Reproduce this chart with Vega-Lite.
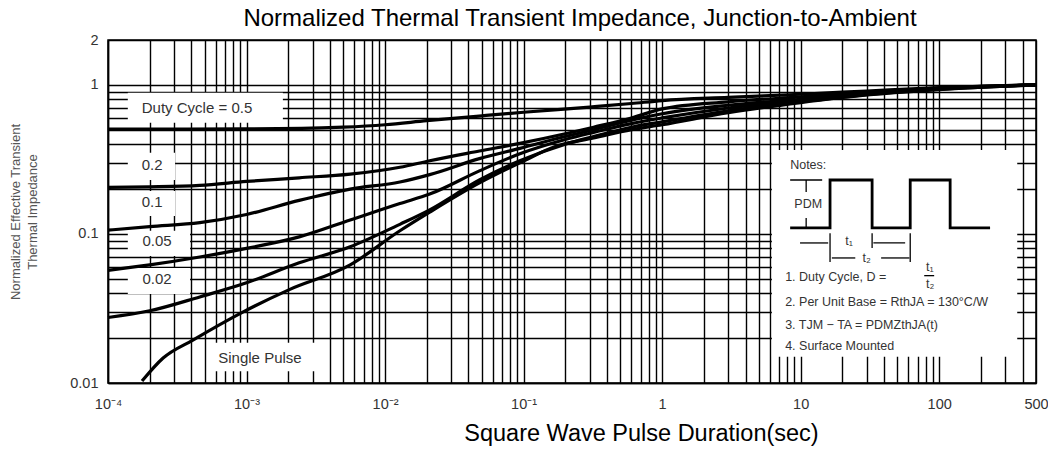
{
  "$schema": "https://vega.github.io/schema/vega-lite/v6.json",
  "width": 928,
  "height": 343,
  "autosize": {"type": "none"},
  "padding": {"left": 108, "top": 40, "right": 12, "bottom": 68},
  "background": "white",
  "title": {"text": "Normalized Thermal Transient Impedance, Junction-to-Ambient", "fontSize": 24, "fontWeight": "normal", "color": "black", "offset": 1, "dx": 8},
  "config": {
    "font": "Liberation Sans",
    "view": {"stroke": "black", "strokeWidth": 1.5},
    "axis": {"grid": true, "gridColor": "black", "gridOpacity": 1, "gridWidth": 1.4, "ticks": false, "domainColor": "black", "domainWidth": 1.5, "labelFontSize": 14.5, "labelColor": "#333", "labelOverlap": false, "labelFlush": false}
  },
  "datasets": {
    "curves": [
      {"s": "0.5", "x": 0.0001, "y": 0.505}, {"s": "0.5", "x": 0.001, "y": 0.507}, {"s": "0.5", "x": 0.0025, "y": 0.51}, {"s": "0.5", "x": 0.005, "y": 0.52}, {"s": "0.5", "x": 0.01, "y": 0.54}, {"s": "0.5", "x": 0.02, "y": 0.575}, {"s": "0.5", "x": 0.05, "y": 0.62}, {"s": "0.5", "x": 0.1, "y": 0.655}, {"s": "0.5", "x": 0.3, "y": 0.71}, {"s": "0.5", "x": 0.6, "y": 0.75}, {"s": "0.5", "x": 1, "y": 0.785}, {"s": "0.5", "x": 3, "y": 0.825}, {"s": "0.5", "x": 10, "y": 0.865}, {"s": "0.5", "x": 30, "y": 0.91}, {"s": "0.5", "x": 100, "y": 0.96}, {"s": "0.5", "x": 500, "y": 1.0},
      {"s": "0.2", "x": 0.0001, "y": 0.205}, {"s": "0.2", "x": 0.0002, "y": 0.207}, {"s": "0.2", "x": 0.00046, "y": 0.212}, {"s": "0.2", "x": 0.001, "y": 0.225}, {"s": "0.2", "x": 0.0024, "y": 0.238}, {"s": "0.2", "x": 0.0056, "y": 0.252}, {"s": "0.2", "x": 0.0128, "y": 0.28}, {"s": "0.2", "x": 0.021, "y": 0.31}, {"s": "0.2", "x": 0.048, "y": 0.36}, {"s": "0.2", "x": 0.094, "y": 0.405}, {"s": "0.2", "x": 0.2, "y": 0.47}, {"s": "0.2", "x": 0.32, "y": 0.52}, {"s": "0.2", "x": 0.6, "y": 0.6}, {"s": "0.2", "x": 1, "y": 0.69}, {"s": "0.2", "x": 3, "y": 0.77}, {"s": "0.2", "x": 10, "y": 0.83}, {"s": "0.2", "x": 30, "y": 0.89}, {"s": "0.2", "x": 100, "y": 0.95}, {"s": "0.2", "x": 500, "y": 1.0},
      {"s": "0.1", "x": 0.0001, "y": 0.106}, {"s": "0.1", "x": 0.0002, "y": 0.112}, {"s": "0.1", "x": 0.00046, "y": 0.119}, {"s": "0.1", "x": 0.001, "y": 0.135}, {"s": "0.1", "x": 0.0024, "y": 0.168}, {"s": "0.1", "x": 0.0056, "y": 0.2}, {"s": "0.1", "x": 0.0128, "y": 0.223}, {"s": "0.1", "x": 0.021, "y": 0.25}, {"s": "0.1", "x": 0.048, "y": 0.32}, {"s": "0.1", "x": 0.094, "y": 0.375}, {"s": "0.1", "x": 0.2, "y": 0.45}, {"s": "0.1", "x": 0.32, "y": 0.5}, {"s": "0.1", "x": 0.6, "y": 0.58}, {"s": "0.1", "x": 1, "y": 0.64}, {"s": "0.1", "x": 3, "y": 0.73}, {"s": "0.1", "x": 10, "y": 0.8}, {"s": "0.1", "x": 30, "y": 0.88}, {"s": "0.1", "x": 100, "y": 0.945}, {"s": "0.1", "x": 500, "y": 1.0},
      {"s": "0.05", "x": 0.0001, "y": 0.057}, {"s": "0.05", "x": 0.0002, "y": 0.062}, {"s": "0.05", "x": 0.00046, "y": 0.07}, {"s": "0.05", "x": 0.001, "y": 0.08}, {"s": "0.05", "x": 0.0024, "y": 0.0955}, {"s": "0.05", "x": 0.0056, "y": 0.124}, {"s": "0.05", "x": 0.0128, "y": 0.16}, {"s": "0.05", "x": 0.021, "y": 0.185}, {"s": "0.05", "x": 0.048, "y": 0.265}, {"s": "0.05", "x": 0.094, "y": 0.345}, {"s": "0.05", "x": 0.2, "y": 0.43}, {"s": "0.05", "x": 0.32, "y": 0.48}, {"s": "0.05", "x": 0.6, "y": 0.55}, {"s": "0.05", "x": 1, "y": 0.6}, {"s": "0.05", "x": 3, "y": 0.7}, {"s": "0.05", "x": 10, "y": 0.79}, {"s": "0.05", "x": 30, "y": 0.87}, {"s": "0.05", "x": 100, "y": 0.94}, {"s": "0.05", "x": 500, "y": 1.0},
      {"s": "0.02", "x": 0.0001, "y": 0.0275}, {"s": "0.02", "x": 0.0002, "y": 0.0305}, {"s": "0.02", "x": 0.00046, "y": 0.0378}, {"s": "0.02", "x": 0.001, "y": 0.047}, {"s": "0.02", "x": 0.0024, "y": 0.064}, {"s": "0.02", "x": 0.0056, "y": 0.082}, {"s": "0.02", "x": 0.0128, "y": 0.116}, {"s": "0.02", "x": 0.021, "y": 0.145}, {"s": "0.02", "x": 0.048, "y": 0.23}, {"s": "0.02", "x": 0.094, "y": 0.31}, {"s": "0.02", "x": 0.2, "y": 0.4}, {"s": "0.02", "x": 0.32, "y": 0.45}, {"s": "0.02", "x": 0.6, "y": 0.52}, {"s": "0.02", "x": 1, "y": 0.565}, {"s": "0.02", "x": 3, "y": 0.67}, {"s": "0.02", "x": 10, "y": 0.77}, {"s": "0.02", "x": 30, "y": 0.86}, {"s": "0.02", "x": 100, "y": 0.935}, {"s": "0.02", "x": 500, "y": 1.0},
      {"s": "single", "x": 0.000176, "y": 0.0103}, {"s": "single", "x": 0.00025, "y": 0.0147}, {"s": "single", "x": 0.00041, "y": 0.0194}, {"s": "single", "x": 0.00094, "y": 0.0299}, {"s": "single", "x": 0.002, "y": 0.042}, {"s": "single", "x": 0.0056, "y": 0.062}, {"s": "single", "x": 0.0128, "y": 0.105}, {"s": "single", "x": 0.021, "y": 0.14}, {"s": "single", "x": 0.048, "y": 0.22}, {"s": "single", "x": 0.094, "y": 0.3}, {"s": "single", "x": 0.175, "y": 0.39}, {"s": "single", "x": 0.32, "y": 0.44}, {"s": "single", "x": 0.6, "y": 0.5}, {"s": "single", "x": 1, "y": 0.54}, {"s": "single", "x": 3, "y": 0.65}, {"s": "single", "x": 10, "y": 0.76}, {"s": "single", "x": 30, "y": 0.855}, {"s": "single", "x": 100, "y": 0.93}, {"s": "single", "x": 500, "y": 1.0}
    ],
    "boxes": [
      {"x": 0.000139, "x2": 0.00183, "y": 0.884, "y2": 0.556},
      {"x": 0.000139, "x2": 0.000305, "y": 0.35, "y2": 0.23},
      {"x": 0.000139, "x2": 0.000305, "y": 0.194, "y2": 0.132},
      {"x": 0.000139, "x2": 0.000391, "y": 0.105, "y2": 0.0712},
      {"x": 0.000139, "x2": 0.000391, "y": 0.0591, "y2": 0.0396},
      {"x": 0.000564, "x2": 0.00318, "y": 0.0186, "y2": 0.012},
      {"x": 6.2, "x2": 366, "y": 0.365, "y2": 0.015}
    ],
    "curvelabels": [
      {"x": 0.000439, "y": 0.70, "text": "Duty Cycle = 0.5"},
      {"x": 0.000208, "y": 0.29, "text": "0.2"},
      {"x": 0.000208, "y": 0.164, "text": "0.1"},
      {"x": 0.000226, "y": 0.0898, "text": "0.05"},
      {"x": 0.000226, "y": 0.0499, "text": "0.02"},
      {"x": 0.00125, "y": 0.0147, "text": "Single Pulse"}
    ],
    "wave": [
      {"i": 1, "x": 8.4, "y": 0.1097}, {"i": 2, "x": 16.3, "y": 0.1097}, {"i": 3, "x": 16.3, "y": 0.23}, {"i": 4, "x": 32.8, "y": 0.23}, {"i": 5, "x": 32.8, "y": 0.1097}, {"i": 6, "x": 61.8, "y": 0.1097}, {"i": 7, "x": 61.8, "y": 0.23}, {"i": 8, "x": 120, "y": 0.23}, {"i": 9, "x": 120, "y": 0.1097}, {"i": 10, "x": 233, "y": 0.1097}
    ],
    "segs": [
      {"x": 8.4, "x2": 14.3, "y": 0.23, "y2": 0.23},
      {"x": 10.96, "x2": 10.96, "y": 0.23, "y2": 0.191},
      {"x": 10.96, "x2": 10.96, "y": 0.128, "y2": 0.1097},
      {"x": 9.9, "x2": 15.8, "y": 0.087, "y2": 0.087},
      {"x": 16.3, "x2": 16.3, "y": 0.101, "y2": 0.0649},
      {"x": 32.8, "x2": 32.8, "y": 0.101, "y2": 0.0805},
      {"x": 33.5, "x2": 56.8, "y": 0.087, "y2": 0.087},
      {"x": 61.8, "x2": 61.8, "y": 0.101, "y2": 0.0649},
      {"x": 16.8, "x2": 24.8, "y": 0.069, "y2": 0.069},
      {"x": 38.1, "x2": 61.0, "y": 0.069, "y2": 0.069},
      {"x": 78, "x2": 92, "y": 0.0525, "y2": 0.0525}
    ],
    "notes": [
      {"x": 8.4, "y": 0.29, "text": "Notes:"},
      {"x": 9.0, "y": 0.159, "text": "PDM"},
      {"x": 21.0, "y": 0.0898, "text": "t₁"},
      {"x": 28.0, "y": 0.069, "text": "t₂"},
      {"x": 7.73, "y": 0.0515, "text": "1. Duty Cycle, D ="},
      {"x": 80.5, "y": 0.06, "text": "t₁"},
      {"x": 80.5, "y": 0.046, "text": "t₂"},
      {"x": 7.73, "y": 0.035, "text": "2. Per Unit Base = RthJA = 130°C/W"},
      {"x": 7.73, "y": 0.0245, "text": "3. TJM − TA = PDMZthJA(t)"},
      {"x": 7.73, "y": 0.0177, "text": "4. Surface Mounted"}
    ]
  },
  "encoding": {
    "x": {
      "field": "x", "type": "quantitative",
      "scale": {"type": "log", "domain": [0.0001, 500], "nice": false},
      "axis": {
        "values": [0.0001, 0.0002, 0.0003, 0.0004, 0.0005, 0.0006, 0.0007, 0.0008, 0.0009, 0.001, 0.002, 0.003, 0.004, 0.005, 0.006, 0.007, 0.008, 0.009, 0.01, 0.02, 0.03, 0.04, 0.05, 0.06, 0.07, 0.08, 0.09, 0.1, 0.2, 0.3, 0.4, 0.5, 0.6, 0.7, 0.8, 0.9, 1, 2, 3, 4, 5, 6, 7, 8, 9, 10, 20, 30, 40, 50, 60, 70, 80, 90, 100, 200, 300, 400, 500],
        "labelExpr": "abs(datum.value - 500) < 1e-6 ? '500' : abs(log(datum.value)/LN10 - round(log(datum.value)/LN10)) > 1e-6 ? '' : round(log(datum.value)/LN10) == -4 ? '10⁻⁴' : round(log(datum.value)/LN10) == -3 ? '10⁻³' : round(log(datum.value)/LN10) == -2 ? '10⁻²' : round(log(datum.value)/LN10) == -1 ? '10⁻¹' : round(log(datum.value)/LN10) == 0 ? '1' : round(log(datum.value)/LN10) == 1 ? '10' : '100'",
        "labelPadding": 14,
        "title": "Square Wave Pulse Duration(sec)",
        "titleFontSize": 23.5, "titleFontWeight": "normal", "titleColor": "black",
        "titleX": 533, "titleY": 57, "titleBaseline": "alphabetic"
      }
    },
    "y": {
      "field": "y", "type": "quantitative",
      "scale": {"type": "log", "domain": [0.01, 2], "nice": false},
      "axis": {
        "values": [0.01, 0.02, 0.03, 0.04, 0.05, 0.06, 0.07, 0.08, 0.09, 0.1, 0.2, 0.3, 0.4, 0.5, 0.6, 0.7, 0.8, 0.9, 1, 2],
        "labelExpr": "datum.value == 2 ? '2' : datum.value == 1 ? '1' : datum.value == 0.1 ? '0.1' : datum.value == 0.01 ? '0.01' : ''",
        "labelPadding": 10,
        "title": ["Normalized Effective Transient", "Thermal Impedance"],
        "titleFontSize": 13, "titleFontWeight": "normal", "titleColor": "#555", "titleLineHeight": 17,
        "titlePadding": 30
      }
    }
  },
  "layer": [
    {
      "data": {"name": "boxes"},
      "mark": {"type": "rect", "fill": "white", "stroke": null},
      "encoding": {"x2": {"field": "x2"}, "y2": {"field": "y2"}}
    },
    {
      "data": {"name": "curves"},
      "mark": {"type": "line", "color": "black", "strokeWidth": 3.2, "interpolate": "monotone"},
      "encoding": {"detail": {"field": "s"}}
    },
    {
      "data": {"name": "wave"},
      "mark": {"type": "line", "color": "black", "strokeWidth": 2.8},
      "encoding": {"order": {"field": "i"}}
    },
    {
      "data": {"name": "segs"},
      "mark": {"type": "rule", "color": "black", "strokeWidth": 1.3},
      "encoding": {"x2": {"field": "x2"}, "y2": {"field": "y2"}}
    },
    {
      "data": {"name": "curvelabels"},
      "mark": {"type": "text", "fontSize": 15, "color": "#333", "align": "center", "baseline": "middle"},
      "encoding": {"text": {"field": "text"}}
    },
    {
      "data": {"name": "notes"},
      "mark": {"type": "text", "fontSize": 12.5, "color": "#333", "align": "left", "baseline": "middle"},
      "encoding": {"text": {"field": "text"}}
    }
  ]
}
